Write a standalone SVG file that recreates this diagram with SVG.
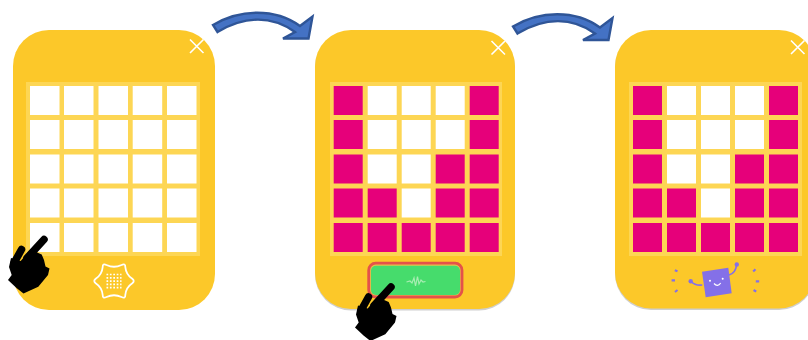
<svg xmlns="http://www.w3.org/2000/svg" xmlns:xlink="http://www.w3.org/1999/xlink" width="808" height="340" viewBox="0 0 808 340">
<style>
.card{fill:#fcc829}
.shadow{fill:#cfcfcf}
.gridbg{fill:#fdd654}
.w{fill:#fff}
.p{fill:#e6007a}
.x{stroke:#fff;stroke-width:1.6;fill:none}
.arrow{fill:#4472c4;stroke:#2f5597;stroke-width:2.400;stroke-linejoin:miter}
.hand{fill:#000}
.fing{stroke:#000;stroke-width:7.500;stroke-linecap:round;fill:none}
.pur{fill:#8470e8}
.arm{stroke:#8470e8;stroke-width:1.700;fill:none}
.dot{stroke:#fff;stroke-width:1.700;stroke-dasharray:1.700 1.700;fill:none}
</style>
<defs>
<g id="pattern">
<rect class="p" x="0" y="0" width="29" height="29"/><rect class="w" x="34" y="0" width="29" height="29"/><rect class="w" x="68" y="0" width="29" height="29"/><rect class="w" x="102" y="0" width="29" height="29"/><rect class="p" x="136" y="0" width="29" height="29"/>
<rect class="p" x="0" y="34" width="29" height="29"/><rect class="w" x="34" y="34" width="29" height="29"/><rect class="w" x="68" y="34" width="29" height="29"/><rect class="w" x="102" y="34" width="29" height="29"/><rect class="p" x="136" y="34" width="29" height="29"/>
<rect class="p" x="0" y="68.500" width="29" height="29"/><rect class="w" x="34" y="68.500" width="29" height="29"/><rect class="w" x="68" y="68.500" width="29" height="29"/><rect class="p" x="102" y="68.500" width="29" height="29"/><rect class="p" x="136" y="68.500" width="29" height="29"/>
<rect class="p" x="0" y="102.500" width="29" height="29"/><rect class="p" x="34" y="102.500" width="29" height="29"/><rect class="w" x="68" y="102.500" width="29" height="29"/><rect class="p" x="102" y="102.500" width="29" height="29"/><rect class="p" x="136" y="102.500" width="29" height="29"/>
<rect class="p" x="0" y="137" width="29" height="29"/><rect class="p" x="34" y="137" width="29" height="29"/><rect class="p" x="68" y="137" width="29" height="29"/><rect class="p" x="102" y="137" width="29" height="29"/><rect class="p" x="136" y="137" width="29" height="29"/>
</g>
<g id="handshape">
<path class="fing" d="M44 239.500L27 258"/>
<path class="fing" d="M21.500 249.500L14 263"/>
<path class="hand" d="M11 258L20.700 261L30 250L36 252L41.700 254.500L44 260L45.500 266.500L49.500 268.500L48 275L38.300 286.700L23.500 293.500L16.500 288L8 280L11.700 275L9 267Z"/>
</g>
<path id="curve" class="arrow" d="M213 25C240 9 275 8 300 26L312.500 16.500L308.500 38.500L283 38.500L295 32C272 15.500 245 15.500 217.500 32Z"/>
</defs>

<g id="connectors">
<use xlink:href="#curve" href="#curve"/>
<use xlink:href="#curve" href="#curve" transform="translate(300 1.500)"/>
</g>

<g id="card1">
<rect class="card" x="13" y="30" width="202" height="280" rx="36"/>
<path class="x" d="M190 39.500L203.500 53M203.500 39.500L190 53"/>
<rect class="gridbg" x="26" y="82" width="174" height="174"/>
<g class="w">
<rect x="30" y="86" width="29.500" height="29"/><rect x="64" y="86" width="29.500" height="29"/><rect x="98.500" y="86" width="29.500" height="29"/><rect x="132.700" y="86" width="29.500" height="29"/><rect x="167" y="86" width="29.500" height="29"/>
<rect x="30" y="120" width="29.500" height="29"/><rect x="64" y="120" width="29.500" height="29"/><rect x="98.500" y="120" width="29.500" height="29"/><rect x="132.700" y="120" width="29.500" height="29"/><rect x="167" y="120" width="29.500" height="29"/>
<rect x="30" y="154.500" width="29.500" height="29"/><rect x="64" y="154.500" width="29.500" height="29"/><rect x="98.500" y="154.500" width="29.500" height="29"/><rect x="132.700" y="154.500" width="29.500" height="29"/><rect x="167" y="154.500" width="29.500" height="29"/>
<rect x="30" y="188.500" width="29.500" height="29"/><rect x="64" y="188.500" width="29.500" height="29"/><rect x="98.500" y="188.500" width="29.500" height="29"/><rect x="132.700" y="188.500" width="29.500" height="29"/><rect x="167" y="188.500" width="29.500" height="29"/>
<rect x="30" y="223" width="29.500" height="29"/><rect x="64" y="223" width="29.500" height="29"/><rect x="98.500" y="223" width="29.500" height="29"/><rect x="132.700" y="223" width="29.500" height="29"/><rect x="167" y="223" width="29.500" height="29"/>
</g>
<path d="M106.500 265Q114 268.500 121.500 265Q125.500 263 125.300 267Q126 274.500 132 278.500Q135.500 281 132 283.500Q126 287.500 125.300 295Q125.500 299 121.500 297Q114 293.500 106.500 297Q102.500 299 102.700 295Q102 287.500 96 283.500Q92.500 281 96 278.500Q102 274.500 102.700 267Q102.500 263 106.500 265Z" fill="none" stroke="#fff" stroke-width="1.800"/>
<path class="dot" d="M106.500 274.500H121.500M106.500 277.800H121.500M106.500 281.100H121.500M106.500 284.400H121.500M106.500 287.700H121.500"/>
<use xlink:href="#handshape" href="#handshape"/>
</g>

<g id="card2">
<rect class="shadow" x="315" y="31.500" width="200" height="279" rx="36"/>
<rect class="card" x="315" y="30" width="200" height="279" rx="36"/>
<path class="x" d="M491.500 41L505 54.500M505 41L491.500 54.500"/>
<rect class="gridbg" x="330" y="82" width="172" height="174"/>
<use xlink:href="#pattern" href="#pattern" x="333.700" y="86"/>
<rect x="368.700" y="263.200" width="93.300" height="33.800" rx="7" fill="#e8c04a" stroke="#e4524a" stroke-width="2.800"/>
<rect x="371" y="265.700" width="89" height="29.300" rx="5" fill="#46dc6c"/>
<path d="M406.500 282L410 281L412 283L414 278L415.500 286L417.500 276.500L419 284L421 280L423 282L425.500 281.500" fill="none" stroke="#a8edb2" stroke-width="1.200"/>
<use xlink:href="#handshape" href="#handshape" transform="translate(347 47.500)"/>
</g>

<g id="card3">
<rect class="shadow" x="615" y="31.500" width="200" height="278.500" rx="36"/>
<rect class="card" x="615" y="30" width="200" height="278.500" rx="36"/>
<path class="x" d="M791 40.500L804.500 54M804.500 40.500L791 54"/>
<rect class="gridbg" x="629" y="82" width="173" height="174"/>
<use xlink:href="#pattern" href="#pattern" x="633" y="86"/>
<path class="pur" d="M702 271.700L728.300 267.700L731.700 293.300L705.700 297.300Z"/>
<path class="arm" d="M691 281.500C694 284.500 698 285.500 702.300 285M729 275C733 274 736 270 736.700 264.500"/>
<circle class="pur" cx="690.700" cy="281.300" r="2.200"/>
<circle class="pur" cx="736.800" cy="264.500" r="2.200"/>
<circle class="w" cx="710" cy="280.700" r="1"/>
<circle class="w" cx="722.700" cy="278.700" r="1"/>
<path d="M714 283.500Q717.500 287.500 720.700 283" fill="none" stroke="#fff" stroke-width="1.200"/>
<path d="M674.800 270.300L677.500 271.300M671.600 280.300H675M675 292L677.500 290M753.200 271.500L755.500 269.300M755.800 281.300H759.200M753.600 290L756.200 291.700" stroke="#8470e8" stroke-width="2.200" fill="none"/>
</g>
</svg>
